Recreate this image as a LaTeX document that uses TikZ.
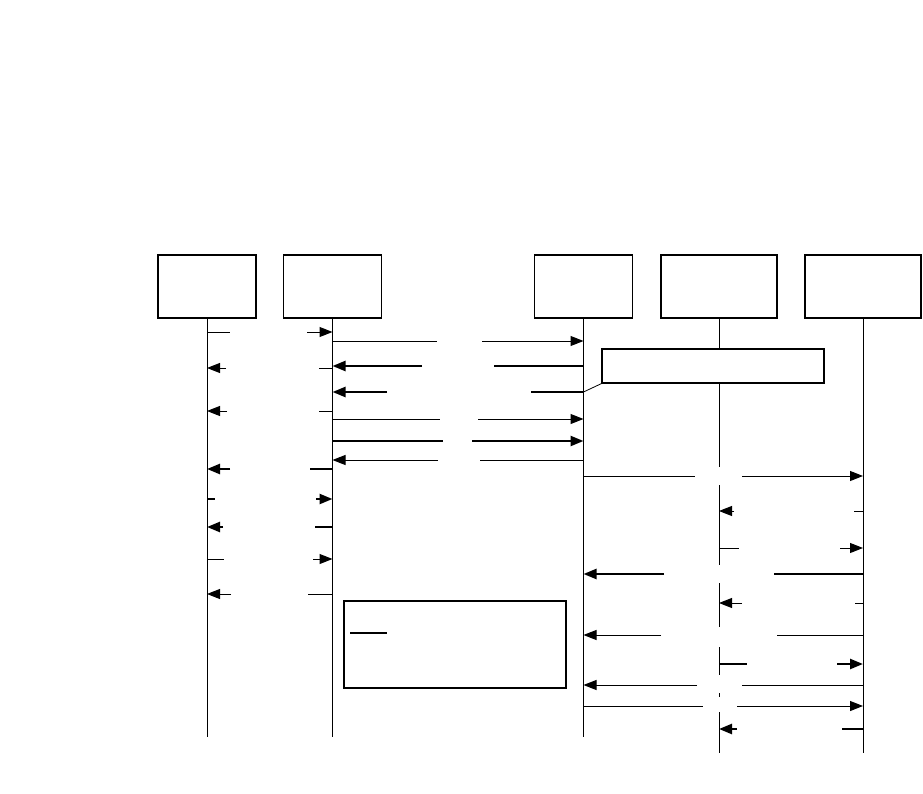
\documentclass[tikz,border=0pt]{standalone}
\usetikzlibrary{arrows.meta}
\begin{document}
\begin{tikzpicture}[x=1pt,y=-1pt,
  box/.style={draw,line width=1.2pt,minimum width=98pt,minimum height=63pt,inner sep=0pt},
  wbox/.style={box,minimum width=116pt},
  life/.style={line width=1pt},
  thinm/.style={line width=1pt},
  thickm/.style={line width=2.4pt},
  tip/.style={-{Triangle[length=13pt,width=10pt]}},
]
\newcommand\msgR[6]{%
  \draw[#6] (#2.south |- 0,#1) -- (#4,#1);
  \draw[#6,tip] (#5,#1) -- (#3.south |- 0,#1);}
\newcommand\msgL[6]{%
  \draw[#6,tip] (#4,#1) -- (#2.south |- 0,#1);
  \draw[#6] (#5,#1) -- (#3.south |- 0,#1);}
\useasboundingbox (0,0) rectangle (923,794);
% participants
\node[box] (A) at (207,286.5) {};
\node[box] (B) at (332.5,286.5) {};
\node[box] (C) at (583.5,286.5) {};
\node[wbox] (D) at (719,286.5) {};
\node[wbox] (E) at (863,286.5) {};
% lifelines
\draw[life] (A.south) -- (A.south |- 0,737);
\draw[life] (B.south) -- (B.south |- 0,737);
\draw[life] (C.south) -- (C.south |- 0,737);
\draw[life] (E.south) -- (E.south |- 0,753);
\draw[life] (D.south) -- (D.south |- 0,467);
\draw[life] (D.south |- 0,485) -- (D.south |- 0,565);
\draw[life] (D.south |- 0,583) -- (D.south |- 0,627);
\draw[life] (D.south |- 0,647) -- (D.south |- 0,675);
\draw[life] (D.south |- 0,693) -- (D.south |- 0,697);
\draw[life] (D.south |- 0,712) -- (D.south |- 0,753);
% note
\node[draw,fill=white,line width=1.2pt,minimum width=222pt,minimum height=34pt,inner sep=0pt] (N) at (713,366) {};
\draw[line width=0.8pt] (N.south west) -- (C.south |- 0,392);
% A <-> B
\msgR{332}{A}{B}{230}{307}{thinm}
\msgL{368}{A}{B}{226}{319}{thinm}
\msgL{411}{A}{B}{227}{319}{thinm}
\msgL{469}{A}{B}{230}{310}{thickm}
\msgR{499}{A}{B}{215}{316}{thickm}
\msgL{527}{A}{B}{223}{315}{thickm}
\msgR{559}{A}{B}{224}{313}{thinm}
\msgL{594}{A}{B}{231}{308}{thinm}
% B <-> C
\msgR{341}{B}{C}{437}{482}{thinm}
\msgL{366}{B}{C}{422}{494}{thickm}
\msgL{392}{B}{C}{387}{531}{thickm}
\msgR{419}{B}{C}{440}{478}{thinm}
\msgR{441}{B}{C}{443}{472}{thickm}
\msgL{460}{B}{C}{438}{480}{thinm}
% C/D <-> E
\msgR{476}{C}{E}{695}{742}{thinm}
\msgL{511}{D}{E}{734}{854}{thinm}
\msgR{548}{D}{E}{739}{840}{thinm}
\msgL{574}{C}{E}{664}{774}{thickm}
\msgL{603}{D}{E}{742}{855}{thinm}
\msgL{635}{C}{E}{661}{777}{thinm}
\msgR{664}{D}{E}{747}{837}{thickm}
\msgL{685}{C}{E}{697}{742}{thinm}
\msgR{706}{C}{E}{703}{737}{thinm}
\msgL{729}{D}{E}{737}{842}{thickm}
% legend box
\node[draw,line width=2pt,minimum width=222pt,minimum height=87pt,inner sep=0pt] (L) at (455,644.5) {};
\coordinate (L1) at (350,633);
\coordinate (L2) at (387,633);
\draw[thickm] (L1) -- (L2);
\end{tikzpicture}
\end{document}
